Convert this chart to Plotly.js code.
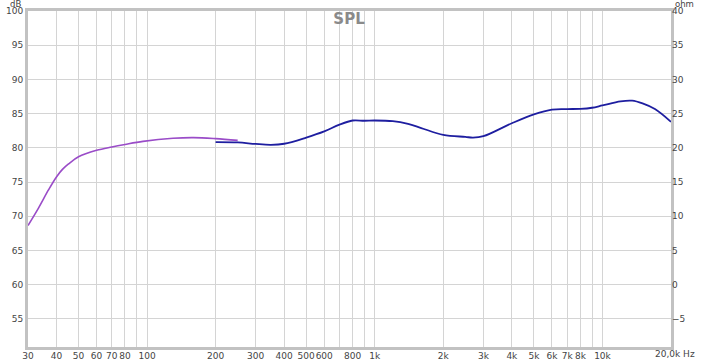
<!DOCTYPE html>
<html>
<head>
<meta charset="utf-8">
<script src="https://cdn.plot.ly/plotly-3.0.1.min.js"></script>
<style>
  html, body { margin: 0; padding: 0; background: #ffffff; }
  #chart { width: 705px; height: 363px; }
</style>
</head>
<body>
<div id="chart"></div>
<script>
// Purple trace (low-frequency measurement)
const purpleFreq = [30, 33.4, 36.9, 40, 42.5, 45.2, 50, 60, 70, 80, 96, 130, 160, 200, 250];
const purpleDb   = [68.66, 71.24, 73.85, 75.75, 76.85, 77.65, 78.7, 79.64, 80.13, 80.5, 80.95, 81.4, 81.5, 81.35, 81.1];

// Blue trace (full-range measurement)
const blueFreq = [200, 250, 300, 350, 400, 500, 600, 700, 800, 900, 1000, 1200, 1400, 1600, 2000, 2500, 2700, 3000, 4000, 5000, 6000, 7000, 8000, 9000, 10000, 12000, 13500, 15000, 17000, 20000];
const blueDb   = [80.85, 80.8, 80.57, 80.45, 80.6, 81.5, 82.4, 83.4, 84.0, 83.96, 84.0, 83.9, 83.5, 82.9, 81.9, 81.6, 81.5, 81.7, 83.6, 84.9, 85.6, 85.67, 85.7, 85.86, 86.2, 86.8, 86.9, 86.5, 85.67, 83.8];

// Axis ticks
const xTickVals = [30, 40, 50, 60, 70, 80, 90, 100, 200, 300, 400, 500, 600, 700, 800, 900, 1000, 2000, 3000, 4000, 5000, 6000, 7000, 8000, 9000, 10000];
const xTickText = ["30", "40", "50", "60", "70", "80", "", "100", "200", "300", "400", "500", "600", "", "800", "", "1k", "2k", "3k", "4k", "5k", "6k", "7k", "8k", "", "10k"];
const dbTicks  = [55, 60, 65, 70, 75, 80, 85, 90, 95, 100];
const ohmTicks = [-5, 0, 5, 10, 15, 20, 25, 30, 35, 40];

const font = "DejaVu Sans, Verdana, sans-serif";
const tickFont = { family: font, size: 9, color: "#444" };

const traces = [
  {
    x: purpleFreq, y: purpleDb, type: "scatter", mode: "lines",
    line: { color: "#9a4cc8", width: 1.6, shape: "spline", smoothing: 1 },
    hoverinfo: "skip", showlegend: false
  },
  {
    x: blueFreq, y: blueDb, type: "scatter", mode: "lines",
    line: { color: "#1e1ea0", width: 1.8, shape: "spline", smoothing: 1 },
    hoverinfo: "skip", showlegend: false
  },
  {
    x: [1000], y: [null], yaxis: "y2", type: "scatter", mode: "lines",
    hoverinfo: "skip", showlegend: false
  }
];

const plotL = 28, plotR = 671, plotT = 11, plotB = 347;
const pw = plotR - plotL, ph = plotB - plotT;

const layout = {
  width: 705, height: 363,
  margin: { l: plotL, r: 705 - plotR, t: plotT, b: 363 - plotB, pad: 0 },
  paper_bgcolor: "#ffffff", plot_bgcolor: "#ffffff",
  showlegend: false,
  title: {
    text: "<b>SPL</b>",
    font: { family: font, size: 15, color: "#8a8a8a" },
    x: 352 / 705, xanchor: "center", xref: "paper",
    y: 1 - 19 / 363, yanchor: "middle", yref: "container"
  },
  xaxis: {
    type: "log",
    range: [Math.log10(30), Math.log10(20000)],
    tickmode: "array", tickvals: xTickVals, ticktext: xTickText,
    ticks: "", tickfont: tickFont, tickangle: 0, ticklabelstandoff: -2,
    showgrid: true, gridcolor: "#d4d4d4", gridwidth: 1,
    showline: true, linecolor: "#c2c2c2", linewidth: 3, mirror: true,
    zeroline: false, fixedrange: true
  },
  yaxis: {
    range: [50.9, 100],
    tickmode: "array", tickvals: dbTicks,
    ticks: "", tickfont: tickFont,
    showgrid: true, gridcolor: "#d4d4d4", gridwidth: 1,
    showline: true, linecolor: "#c2c2c2", linewidth: 3, mirror: true,
    zeroline: false, fixedrange: true
  },
  yaxis2: {
    overlaying: "y", side: "right",
    range: [-9.1, 40],
    tickmode: "array", tickvals: ohmTicks,
    ticks: "", tickfont: tickFont,
    showgrid: false, zeroline: false, showline: false, fixedrange: true
  },
  annotations: [
    {
      text: "dB", xref: "paper", yref: "paper",
      x: (15 - plotL) / pw, y: 1 + (plotT - 4.5) / ph,
      xanchor: "center", yanchor: "middle", showarrow: false,
      font: { family: font, size: 8.5, color: "#444" }
    },
    {
      text: "ohm", xref: "paper", yref: "paper",
      x: (684 - plotL) / pw, y: 1 + (plotT - 4.5) / ph,
      xanchor: "center", yanchor: "middle", showarrow: false,
      font: { family: font, size: 8.5, color: "#444" }
    },
    {
      text: "20,0k Hz", xref: "paper", yref: "paper",
      x: (653 - plotL) / pw, y: -(354 - plotB) / ph,
      xanchor: "left", yanchor: "middle", showarrow: false,
      font: tickFont
    }
  ]
};

Plotly.newPlot("chart", traces, layout, { staticPlot: true, displayModeBar: false });
</script>
</body>
</html>
